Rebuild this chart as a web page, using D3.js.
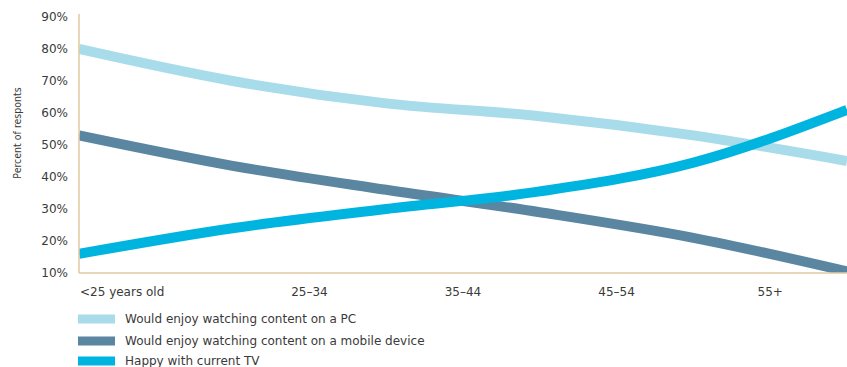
<!DOCTYPE html>
<html><head><meta charset="utf-8">
<script src="https://cdn.jsdelivr.net/npm/d3@7"></script>
<style>
body{margin:0;background:#fff;}
text{font-family:"DejaVu Sans",sans-serif;fill:#3a3a3a;}
</style></head>
<body><svg id="c" width="847" height="367"></svg>
<script>
const categories = ["<25 years old","25–34","35–44","45–54","55+"];
const xPoints = [0,1,2,3,4,5];
const seriesNames = ["Would enjoy watching content on a PC","Would enjoy watching content on a mobile device","Happy with current TV"];
const pcValues = [80, 70, 63, 59, 53, 45];
const mobileValues = [53, 43.5, 36, 29, 21, 10.5];
const tvValues = [16, 24, 30, 35.5, 44.5, 61];
const yTicks = [10,20,30,40,50,60,70,80,90];
const colors = ["#a9dcea","#5b86a2","#00b4e0"];

(function(){
const svg = d3.select("#c");
const mL = 79, mR = 847, mT = 17, mB = 273;
const x = d3.scaleLinear().domain([0,5]).range([mL,mR]);
const xb = d3.scaleBand().domain(categories).range([mL,mR]);
const y = d3.scaleLinear().domain([10,90]).range([mB,mT]);

svg.append("g").selectAll("text").data(yTicks).join("text")
  .attr("x", 68).attr("y", d=>y(d)).attr("dy","0.35em")
  .attr("text-anchor","end").style("font-size","12px")
  .text(d=>d+"%");

svg.append("text").attr("transform",`translate(21,${y(55)+4}) rotate(-90)`)
  .attr("text-anchor","middle").style("font-size","10.5px")
  .style("font-family","'DejaVu Sans Condensed','Liberation Sans Narrow',sans-serif")
  .text("Percent of responts");

svg.append("g").selectAll("text").data(categories).join("text")
  .attr("x",(d,i)=> i===0 ? mL+1 : xb(d)+xb.bandwidth()/2)
  .attr("y",292).attr("dy","0.35em")
  .attr("text-anchor",(d,i)=> i===0?"start":"middle")
  .style("font-size","12px")
  .text(d=>d);

const data = [pcValues, mobileValues, tvValues];
const line = d3.line().x((d,i)=>x(xPoints[i])).y(d=>y(d)).curve(d3.curveMonotoneX);
svg.append("clipPath").attr("id","cl").append("rect")
  .attr("x",mL).attr("y",0).attr("width",mR-mL).attr("height",mB);
svg.append("g").attr("clip-path","url(#cl)").selectAll("path").data(data).join("path")
  .attr("d", line).attr("fill","none")
  .attr("stroke",(d,i)=>colors[i]).attr("stroke-width",10);

svg.append("line").attr("x1",mL).attr("x2",mL).attr("y1",y(90)-3).attr("y2",mB)
  .attr("stroke","#e2c9a0").attr("stroke-width",1.5);
svg.append("line").attr("x1",mL).attr("x2",mR).attr("y1",mB).attr("y2",mB)
  .attr("stroke","#e2c9a0").attr("stroke-width",1.5);

const lg = svg.append("g").selectAll("g").data(seriesNames).join("g")
  .attr("transform",(d,i)=>`translate(78,${[319,341,361][i]})`);
lg.append("rect").attr("x",0).attr("y",-4.5).attr("width",37).attr("height",9)
  .attr("fill",(d,i)=>colors[i]);
lg.append("text").attr("x",47).attr("y",0).attr("dy","0.35em")
  .style("font-size","12px").text(d=>d);
})();
</script></body></html>
